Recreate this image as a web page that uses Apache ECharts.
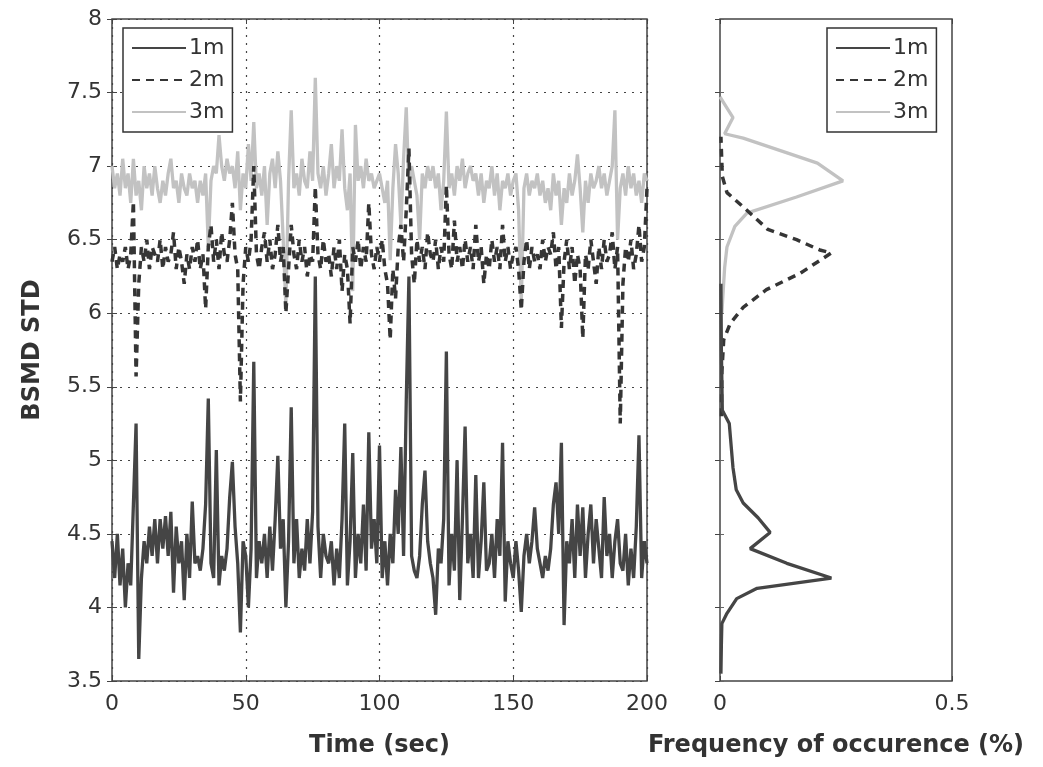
<!DOCTYPE html>
<html>
<head>
<meta charset="utf-8">
<script src="https://cdn.jsdelivr.net/npm/echarts@6/dist/echarts.min.js"></script>
<style>
html,body{margin:0;padding:0;background:#fff;}
#chart{width:1043px;height:767px;}
</style>
</head>
<body>
<div id="chart"></div>
<script>
// Time series sampled each second, t = 0..200 s
const series1m = [4.45,4.2,4.5,4.15,4.4,4.0,4.3,4.15,4.7,5.25,3.65,4.2,4.45,4.3,4.55,4.35,4.6,4.3,4.6,4.4,
4.62,4.35,4.65,4.1,4.55,4.3,4.45,4.05,4.5,4.2,4.72,4.3,4.35,4.25,4.4,4.7,5.42,4.3,4.2,5.07,
4.15,4.35,4.25,4.4,4.75,4.99,4.55,4.3,3.83,4.45,4.35,4.0,4.4,5.67,4.2,4.45,4.3,4.5,4.2,4.55,
4.25,4.6,5.03,4.4,4.6,4.0,4.45,5.36,4.3,4.6,4.2,4.4,4.25,4.6,4.3,4.65,6.25,4.55,4.2,4.5,
4.35,4.3,4.45,4.15,4.4,4.2,4.6,5.25,4.15,4.45,5.05,4.2,4.5,4.3,4.7,4.25,5.19,4.4,4.6,4.3,
5.1,4.2,4.45,4.15,4.5,4.3,4.8,4.5,5.09,4.35,5.4,6.25,4.35,4.25,4.2,4.35,4.7,4.93,4.45,4.3,
4.2,3.95,4.4,4.3,4.6,5.74,4.15,4.5,4.25,5.0,4.05,4.6,5.23,4.3,4.5,4.2,4.9,4.2,4.45,4.85,
4.25,4.3,4.5,4.2,4.6,4.35,5.12,4.04,4.45,4.3,4.2,4.45,4.25,3.97,4.35,4.5,4.3,4.45,4.68,4.4,
4.3,4.2,4.35,4.25,4.4,4.7,4.85,4.5,5.12,3.88,4.45,4.3,4.6,4.2,4.7,4.35,4.68,4.2,4.5,4.7,
4.3,4.6,4.4,4.2,4.75,4.35,4.5,4.2,4.45,4.6,4.3,4.25,4.5,4.15,4.4,4.2,4.55,5.17,4.2,4.45,4.3];

const series2m = [6.35,6.45,6.3,6.4,6.35,6.45,6.3,6.4,6.76,5.57,6.2,6.45,6.35,6.5,6.3,6.45,6.4,6.35,6.5,6.3,
6.45,6.35,6.4,6.55,6.3,6.45,6.35,6.2,6.4,6.3,6.45,6.35,6.5,6.3,6.4,6.03,6.45,6.6,6.35,6.5,
6.3,6.55,6.4,6.35,6.5,6.75,6.4,6.3,5.4,6.2,6.45,6.35,6.5,7.0,6.4,6.3,6.45,6.55,6.35,6.5,
6.3,6.4,6.6,6.35,6.45,6.0,6.3,6.6,6.4,6.3,6.5,6.35,6.45,6.25,6.4,6.35,6.86,6.4,6.3,6.5,
6.35,6.4,6.25,6.45,6.3,6.5,6.15,6.4,6.3,5.93,6.45,6.35,6.5,6.3,6.45,6.35,6.75,6.4,6.3,6.45,
6.35,6.5,6.3,6.2,5.82,6.3,6.1,6.45,6.6,6.35,6.7,7.12,6.4,6.2,6.5,6.35,6.45,6.3,6.55,6.4,
6.35,6.5,6.3,6.45,6.35,6.87,6.4,6.3,6.63,6.35,6.45,6.3,6.5,6.35,6.45,6.3,6.6,6.35,6.45,6.2,
6.4,6.3,6.5,6.35,6.45,6.3,6.6,6.35,6.45,6.3,6.4,6.45,6.3,6.02,6.35,6.5,6.3,6.45,6.35,6.4,
6.3,6.5,6.35,6.45,6.4,6.55,6.3,6.45,5.9,6.35,6.5,6.3,6.45,6.2,6.4,6.3,5.83,6.4,6.3,6.5,
6.35,6.2,6.45,6.3,6.5,6.35,6.4,6.55,6.3,6.45,5.25,6.2,6.45,6.35,6.5,6.3,6.4,6.6,6.35,6.45,6.85];

const series3m = [7.0,6.85,6.95,6.8,7.05,6.85,6.95,6.75,7.05,6.8,6.9,6.7,7.0,6.85,6.95,6.8,7.0,6.85,6.75,6.9,
6.8,6.95,7.05,6.85,6.9,6.75,6.95,6.85,6.8,6.95,6.85,6.9,6.75,6.9,6.8,6.95,6.45,6.9,7.0,6.95,
7.21,7.0,6.9,7.05,6.95,7.0,6.85,7.1,6.7,6.95,6.85,7.15,6.9,7.3,6.85,6.95,6.8,7.0,6.6,6.95,
7.05,6.85,7.1,6.9,6.5,6.05,6.9,7.38,6.85,6.95,6.8,7.05,6.9,6.85,7.1,6.9,7.6,6.95,6.85,7.0,
6.8,6.95,7.15,6.85,7.0,6.9,7.25,6.85,6.7,6.95,6.15,7.28,6.9,7.0,6.85,7.05,6.9,6.95,6.85,6.9,
6.95,6.85,6.75,6.9,6.36,6.85,7.15,6.95,6.6,7.05,7.4,6.85,7.0,6.9,6.8,6.5,6.95,6.85,7.0,6.9,
7.0,6.85,6.95,6.7,6.9,7.37,6.85,6.95,6.8,7.0,6.9,7.05,6.85,6.95,7.0,6.9,6.95,6.8,6.95,6.75,
6.9,6.85,7.0,6.8,6.95,6.7,6.9,6.85,6.95,6.8,6.9,6.95,6.7,6.07,6.85,6.95,6.8,6.9,6.85,6.95,
6.8,6.9,6.75,6.85,6.7,6.95,6.8,6.9,6.6,6.85,6.75,6.95,6.8,6.9,7.08,6.85,6.55,6.9,6.75,6.95,
6.85,6.9,7.0,6.85,6.95,6.8,6.9,7.0,7.38,6.5,6.85,6.95,6.8,7.0,6.85,6.95,6.8,6.9,6.75,6.95,6.9];

// Histograms: [frequency, BSMD STD value]
const hist1m = [[0.002,3.55],[0.003,3.75],[0.004,3.89],[0.015,3.96],[0.036,4.06],[0.08,4.13],[0.24,4.2],[0.144,4.3],[0.065,4.4],[0.108,4.51],[0.082,4.61],[0.05,4.71],[0.035,4.8],[0.028,4.95],[0.02,5.25],[0.005,5.34],[0.003,5.75],[0.002,6.2]];
const hist2m = [[0.003,5.3],[0.004,5.6],[0.008,5.82],[0.022,5.93],[0.05,6.04],[0.1,6.16],[0.172,6.27],[0.24,6.41],[0.215,6.43],[0.165,6.5],[0.103,6.57],[0.058,6.7],[0.015,6.82],[0.005,6.93],[0.002,7.2]];
const hist3m = [[0.004,6.0],[0.01,6.31],[0.015,6.45],[0.032,6.59],[0.058,6.68],[0.165,6.79],[0.265,6.9],[0.21,7.02],[0.135,7.1],[0.05,7.19],[0.01,7.22],[0.028,7.33],[0.0,7.47]];

const seriesNames = ['1m','2m','3m'];
const timeTicks = [0,50,100,150,200];
const freqTicks = [0,0.5];

const FONT = 'DejaVu Sans';
const toPairs = arr => arr.map((v,i)=>[i,v]);

const styles = {
  '1m': {color:'#454545', width:3.3, type:'solid'},
  '2m': {color:'#353535', width:3.5, type:[8,6]},
  '3m': {color:'#c2c2c2', width:3.3, type:'solid'}
};

function lineSeries(name, data, xi, yi, z){
  const s = styles[name];
  return {
    name, type:'line', data, xAxisIndex:xi, yAxisIndex:yi, z,
    symbol:'none', showSymbol:false, animation:false, silent:true,
    lineStyle:{color:s.color, width:s.width, type:s.type},
    itemStyle:{color:s.color}
  };
}

const legendBase = {
  orient:'vertical', top:28, itemWidth:54, itemHeight:22, itemGap:10,
  padding:[9,8,9,8], borderColor:'#333', borderWidth:1.5, backgroundColor:'#fff',
  textStyle:{fontFamily:FONT, fontSize:22, color:'#333', padding:[0,0,0,-2]},
  itemStyle:{opacity:0},
  data:seriesNames, selectedMode:false
};

const axisLabelStyle = {fontFamily:FONT, fontSize:22, color:'#333'};
const nameStyle = {fontFamily:FONT, fontSize:24, fontWeight:'bold', color:'#333'};
const tickIn = {inside:true, length:5, lineStyle:{color:'#444'}};

function mirrorX(grid, max, interval){
  return {type:'value', gridIndex:grid, position:'top', min:0, max, interval,
    axisLine:{show:false}, axisTick:tickIn, axisLabel:{show:false}, splitLine:{show:false}};
}
function mirrorY(grid){
  return {type:'value', gridIndex:grid, position:'right', min:3.5, max:8, interval:0.5,
    axisLine:{show:false}, axisTick:tickIn, axisLabel:{show:false}, splitLine:{show:false}};
}

const option = {
  backgroundColor:'#fff',
  animation:false,
  grid:[
    {left:112, top:19, width:535, height:662, show:true, borderColor:'#444', borderWidth:1.5, backgroundColor:'transparent'},
    {left:720, top:19, width:232, height:662, show:true, borderColor:'#444', borderWidth:1.5, backgroundColor:'transparent'}
  ],
  legend:[
    Object.assign({}, legendBase, {left:123}),
    Object.assign({}, legendBase, {left:827})
  ],
  xAxis:[
    {type:'value', gridIndex:0, min:0, max:200, interval:50,
     name:'Time (sec)', nameLocation:'middle', nameGap:53, nameTextStyle:nameStyle,
     axisLine:{show:false}, axisTick:tickIn,
     axisLabel:Object.assign({margin:12, formatter:v=>timeTicks.includes(v)?String(v):''}, axisLabelStyle),
     splitLine:{show:true, lineStyle:{color:'#444', type:[2,6], width:1.2}}},
    {type:'value', gridIndex:1, min:0, max:0.5, interval:0.5,
     name:'Frequency of occurence (%)', nameLocation:'middle', nameGap:53, nameTextStyle:nameStyle,
     axisLine:{show:false}, axisTick:tickIn,
     axisLabel:Object.assign({margin:12, formatter:v=>freqTicks.includes(v)?String(v):''}, axisLabelStyle),
     splitLine:{show:false}},
    mirrorX(0, 200, 50),
    mirrorX(1, 0.5, 0.5)
  ],
  yAxis:[
    {type:'value', gridIndex:0, min:3.5, max:8, interval:0.5,
     name:'BSMD STD', nameLocation:'middle', nameGap:67, nameRotate:90, nameTextStyle:nameStyle,
     axisLine:{show:false}, axisTick:tickIn,
     axisLabel:Object.assign({margin:10}, axisLabelStyle),
     splitLine:{show:true, lineStyle:{color:'#444', type:[2,6], width:1.2}}},
    {type:'value', gridIndex:1, min:3.5, max:8, interval:0.5,
     axisLine:{show:false}, axisTick:{inside:true, length:4, lineStyle:{color:'#666'}},
     axisLabel:{show:false}, splitLine:{show:false}},
    mirrorY(0),
    mirrorY(1)
  ],
  series:[
    lineSeries('3m', toPairs(series3m), 0, 0, 2),
    lineSeries('2m', toPairs(series2m), 0, 0, 3),
    lineSeries('1m', toPairs(series1m), 0, 0, 4),
    lineSeries('3m', hist3m, 1, 1, 2),
    lineSeries('2m', hist2m, 1, 1, 3),
    lineSeries('1m', hist1m, 1, 1, 4)
  ]
};

const chart = echarts.init(document.getElementById('chart'), null, {renderer:'canvas'});
chart.setOption(option);
</script>
</body>
</html>
